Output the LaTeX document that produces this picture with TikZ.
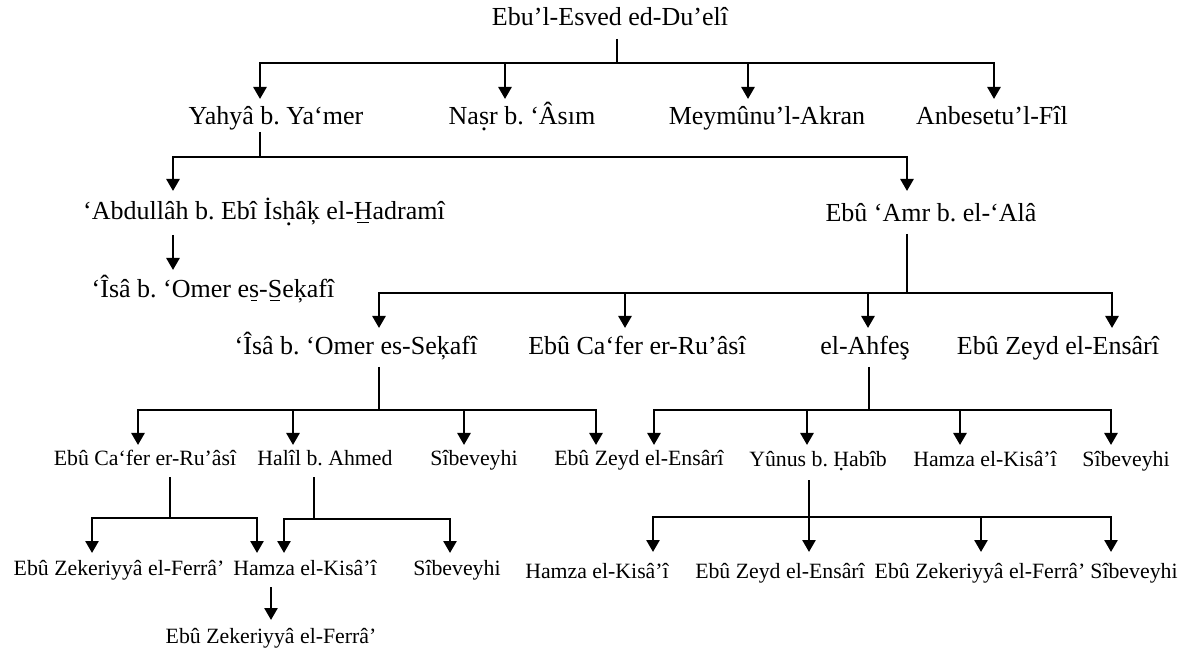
\documentclass[tikz,border=0pt]{standalone}
\usepackage{fontspec}
\setmainfont{Liberation Serif}
\usetikzlibrary{arrows.meta}
\frenchspacing
\newcommand\dotb[1]{\leavevmode\setbox0\hbox{#1}\rlap{\hbox to\wd0{\hss\raisebox{-0.2em}{.}\hss}}\box0}
\newcommand\linb[1]{\leavevmode\setbox0\hbox{#1}\rlap{\hbox to\wd0{\hss\rule[-0.13em]{0.65\wd0}{0.055em}\hss}}\box0}
\begin{document}
\begin{tikzpicture}[x=1pt,y=-1pt,
  ln/.style={line width=2.6pt},
  arr/.style={ln,-{Triangle[width=13pt,length=12pt]}},
  big/.style={font=\fontsize{26}{30}\selectfont\frenchspacing,inner sep=0pt,anchor=base},
  small/.style={font=\fontsize{21.8}{26}\selectfont\frenchspacing,inner sep=0pt,anchor=base}]
\fill[white] (0,0) rectangle (1195,652);
\useasboundingbox (0,0) rectangle (1195,652);

% ---- nodes (large) ----
\node[big] (root) at (610,26) {Ebu’l-Esved ed-Du’elî};
\node[big] (yahya) at (276,125) {Yahyâ b. Ya‘mer};
\node[big] (nasr) at (522,125) {Na\dotb{s}r b. ‘Âsım};
\node[big] (meymun) at (767,125) {Meymûnu’l-Akran};
\node[big] (anbese) at (992,125) {Anbesetu’l-Fîl};
\node[big] (abdullah) at (264,220) {‘Abdullâh b. Ebî İs\dotb{h}âķ el-\linb{H}adramî};
\node[big] (amr) at (931,222) {Ebû ‘Amr b. el-‘Alâ};
\node[big] (isa1) at (213,298) {‘Îsâ b. ‘Omer e\linb{s}-\linb{S}eķafî};
\node[big] (isa2) at (356,355) {‘Îsâ b. ‘Omer es-Seķafî};
\node[big] (cafer1) at (637,355) {Ebû Ca‘fer er-Ru’âsî};
\node[big] (ahfes) at (865,355) {el-Ahfeş};
\node[big] (zeyd1) at (1058,355) {Ebû Zeyd el-Ensârî};
% ---- nodes (small) ----
\node[small] (cafer2) at (145,465) {Ebû Ca‘fer er-Ru’âsî};
\node[small] (halil) at (325,465) {Halîl b. Ahmed};
\node[small] (sib1) at (474,465) {Sîbeveyhi};
\node[small] (zeyd2) at (639,465) {Ebû Zeyd el-Ensârî};
\node[small] (yunus) at (818,466) {Yûnus b. \dotb{H}abîb};
\node[small] (hamza1) at (985,466) {Hamza el-Kisâ’î};
\node[small] (sib2) at (1126,466) {Sîbeveyhi};
\node[small] (zek1) at (119,575) {Ebû Zekeriyyâ el-Ferrâ’};
\node[small] (hamza2) at (305,575) {Hamza el-Kisâ’î};
\node[small] (sib3) at (457,575) {Sîbeveyhi};
\node[small] (zek2) at (271,643) {Ebû Zekeriyyâ el-Ferrâ’};
\node[small] (hamza3) at (597,578) {Hamza el-Kisâ’î};
\node[small] (zeyd3) at (780,578) {Ebû Zeyd el-Ensârî};
\node[small] (zek3) at (980,578) {Ebû Zekeriyyâ el-Ferrâ’};
\node[small] (sib4) at (1134,578) {Sîbeveyhi};

% ---- root group ----
\coordinate (root-out) at ([xshift=7pt,yshift=-13pt]root.base);
\path (root-out) ++(0,24) coordinate (j-root);
\coordinate (yahya-in) at ([xshift=-16pt,yshift=26pt]yahya.base);
\coordinate (nasr-in) at ([xshift=-17pt,yshift=26pt]nasr.base);
\coordinate (meymun-in) at ([xshift=-19pt,yshift=26pt]meymun.base);
\coordinate (anbese-in) at ([xshift=2pt,yshift=26pt]anbese.base);
\draw[ln] (root-out) -- (j-root);
\draw[arr] (j-root) -| (yahya-in);
\draw[arr] (j-root) -| (anbese-in);
\draw[arr] (j-root -| nasr-in) -- (nasr-in);
\draw[arr] (j-root -| meymun-in) -- (meymun-in);

% ---- Yahya group ----
\coordinate (yahya-out) at ([xshift=-16pt,yshift=-7pt]yahya.base);
\path (yahya-out) ++(0,25) coordinate (j-yahya);
\coordinate (abdullah-in) at ([xshift=-91pt,yshift=29pt]abdullah.base);
\coordinate (amr-in) at ([xshift=-24pt,yshift=31pt]amr.base);
\draw[ln] (yahya-out) -- (j-yahya);
\draw[arr] (j-yahya) -| (abdullah-in);
\draw[arr] (j-yahya) -| (amr-in);

% ---- Abdullah -> Isa ----
\coordinate (abdullah-out) at ([xshift=-91pt,yshift=-15pt]abdullah.base);
\coordinate (isa1-in) at ([xshift=-40pt,yshift=28pt]isa1.base);
\draw[arr] (abdullah-out) -- (isa1-in);

% ---- Amr group ----
\coordinate (amr-out) at ([xshift=-24pt,yshift=-12pt]amr.base);
\path (amr-out) ++(0,59) coordinate (j-amr);
\coordinate (isa2-in) at ([xshift=23pt,yshift=27pt]isa2.base);
\coordinate (cafer1-in) at ([xshift=-12pt,yshift=27pt]cafer1.base);
\coordinate (ahfes-in) at ([xshift=3pt,yshift=27pt]ahfes.base);
\coordinate (zeyd1-in) at ([xshift=54pt,yshift=27pt]zeyd1.base);
\draw[ln] (amr-out) -- (j-amr);
\draw[arr] (j-amr) -| (isa2-in);
\draw[arr] (j-amr) -| (zeyd1-in);
\draw[arr] (j-amr -| cafer1-in) -- (cafer1-in);
\draw[arr] (j-amr -| ahfes-in) -- (ahfes-in);

% ---- Isa group ----
\coordinate (isa2-out) at ([xshift=23pt,yshift=-12pt]isa2.base);
\path (isa2-out) ++(0,43) coordinate (j-isa);
\coordinate (cafer2-in) at ([xshift=-7pt,yshift=20pt]cafer2.base);
\coordinate (halil-in) at ([xshift=-32pt,yshift=20pt]halil.base);
\coordinate (sib1-in) at ([xshift=-10pt,yshift=20pt]sib1.base);
\coordinate (zeyd2-inA) at ([xshift=-43pt,yshift=20pt]zeyd2.base);
\draw[ln] (isa2-out) -- (j-isa);
\draw[arr] (j-isa) -| (cafer2-in);
\draw[arr] (j-isa) -| (zeyd2-inA);
\draw[arr] (j-isa -| halil-in) -- (halil-in);
\draw[arr] (j-isa -| sib1-in) -- (sib1-in);

% ---- Ahfes group ----
\coordinate (ahfes-out) at ([xshift=4pt,yshift=-12pt]ahfes.base);
\path (ahfes-out) ++(0,43) coordinate (j-ahfes);
\coordinate (zeyd2-inB) at ([xshift=15pt,yshift=20pt]zeyd2.base);
\coordinate (yunus-in) at ([xshift=-11pt,yshift=21pt]yunus.base);
\coordinate (hamza1-in) at ([xshift=-25pt,yshift=21pt]hamza1.base);
\coordinate (sib2-in) at ([xshift=-15pt,yshift=21pt]sib2.base);
\draw[ln] (ahfes-out) -- (j-ahfes);
\draw[arr] (j-ahfes) -| (zeyd2-inB);
\draw[arr] (j-ahfes) -| (sib2-in);
\draw[arr] (j-ahfes -| yunus-in) -- (yunus-in);
\draw[arr] (j-ahfes -| hamza1-in) -- (hamza1-in);

% ---- Cafer (small) group ----
\coordinate (cafer2-out) at ([xshift=25pt,yshift=-12pt]cafer2.base);
\path (cafer2-out) ++(0,41) coordinate (j-cafer);
\coordinate (zek1-in) at ([xshift=-27pt,yshift=22pt]zek1.base);
\coordinate (hamza2-inA) at ([xshift=-48pt,yshift=22pt]hamza2.base);
\draw[ln] (cafer2-out) -- (j-cafer);
\draw[arr] (j-cafer) -| (zek1-in);
\draw[arr] (j-cafer) -| (hamza2-inA);

% ---- Halil group ----
\coordinate (halil-out) at ([xshift=-11pt,yshift=-12pt]halil.base);
\path (halil-out) ++(0,42) coordinate (j-halil);
\coordinate (hamza2-inB) at ([xshift=-21pt,yshift=22pt]hamza2.base);
\coordinate (sib3-in) at ([xshift=-7pt,yshift=22pt]sib3.base);
\draw[ln] (halil-out) -- (j-halil);
\draw[arr] (j-halil) -| (hamza2-inB);
\draw[arr] (j-halil) -| (sib3-in);

% ---- Hamza -> Zekeriyya ----
\coordinate (hamza2-out) at ([xshift=-34pt,yshift=-12pt]hamza2.base);
\coordinate (zek2-in) at ([yshift=23pt]zek2.base);
\draw[arr] (hamza2-out) -- (zek2-in);

% ---- Yunus group ----
\coordinate (yunus-out) at ([xshift=-9pt,yshift=-14pt]yunus.base);
\path (yunus-out) ++(0,37) coordinate (j-yunus);
\coordinate (hamza3-in) at ([xshift=56pt,yshift=26pt]hamza3.base);
\coordinate (zeyd3-in) at ([xshift=29pt,yshift=26pt]zeyd3.base);
\coordinate (zek3-in) at ([xshift=1pt,yshift=26pt]zek3.base);
\coordinate (sib4-in) at ([xshift=-23pt,yshift=26pt]sib4.base);
\draw[ln] (yunus-out) -- (j-yunus);
\draw[arr] (j-yunus) -| (hamza3-in);
\draw[arr] (j-yunus) -| (sib4-in);
\draw[arr] (j-yunus -| zeyd3-in) -- (zeyd3-in);
\draw[arr] (j-yunus -| zek3-in) -- (zek3-in);
\end{tikzpicture}
\end{document}
